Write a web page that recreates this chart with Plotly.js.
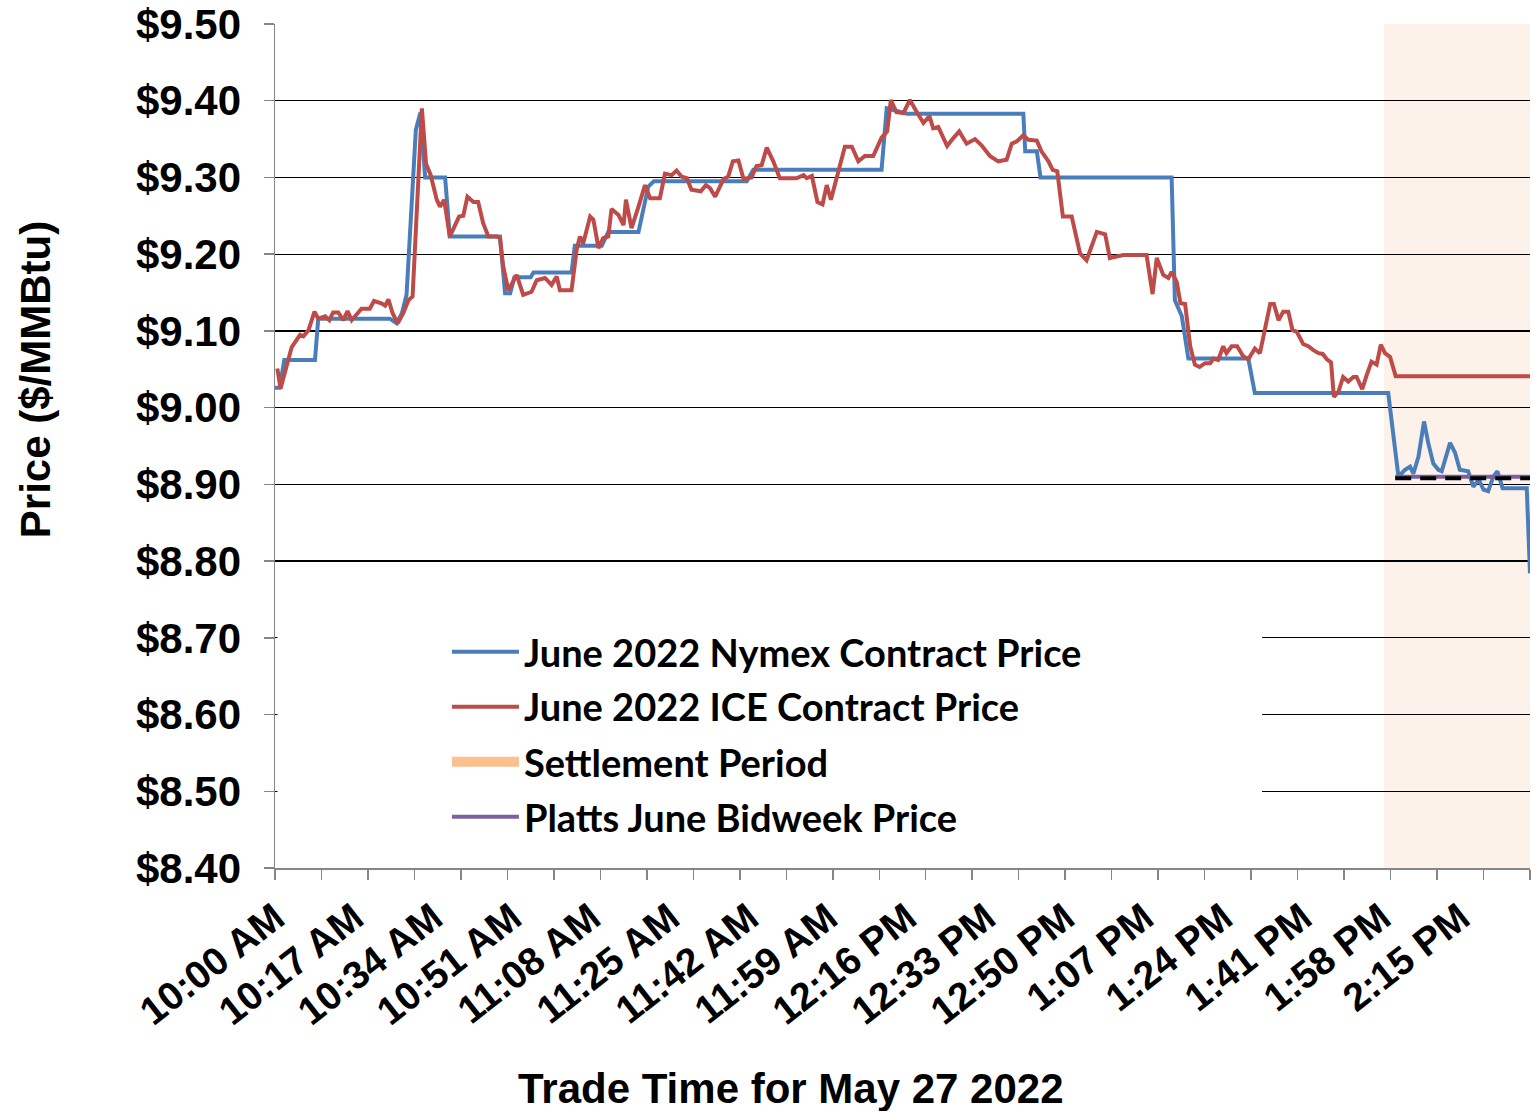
<!DOCTYPE html>
<html><head><meta charset="utf-8">
<script src="https://cdn.plot.ly/plotly-3.0.1.min.js"></script>
<style>html,body{margin:0;padding:0;background:#fff}#chart{width:1532px;height:1111px}</style>
</head><body><div id="chart"></div>
<script>
// minutes after 10:00 AM, May 27 2022
const nymexTime = [0,1,2,8.6,9.3,24.7,26.2,27.3,28.3,30.3,31.3,32.3,36.6,37.6,48.4,49.5,50.6,51.5,55,55.6,63.8,64.5,70.3,71.7,78.2,80.3,81.5,101.5,102.9,130.5,131.6,133,136,161,161.4,163.9,164.7,192.9,193.6,195.1,196.5,209.4,210.8,239.5,241.7,243.1,244.2,244.9,246,247.2,248.1,249.2,250.3,251,252.8,253.9,254.9,256.7,257.8,259,260,261,262.1,263,264.1,269.3,270];
const nymexPrice = [9.026,9.026,9.062,9.062,9.116,9.116,9.110,9.123,9.147,9.362,9.385,9.300,9.300,9.223,9.223,9.149,9.149,9.170,9.170,9.176,9.176,9.211,9.211,9.229,9.229,9.288,9.295,9.295,9.310,9.310,9.390,9.388,9.383,9.383,9.334,9.334,9.300,9.300,9.140,9.119,9.064,9.064,9.019,9.019,8.910,8.919,8.923,8.914,8.936,8.982,8.954,8.927,8.919,8.917,8.954,8.941,8.919,8.917,8.897,8.906,8.893,8.891,8.910,8.917,8.895,8.895,8.784];

const iceTime = [0.5,1.2,3.6,5.4,6.1,7.2,8.5,9.3,10.8,11.7,12.5,13.6,14.7,15.6,16.5,17.9,18.6,20.4,21.3,22.9,23.7,24.4,25.3,26.4,27.6,28.7,29.6,31.6,32.5,33.5,34.8,35.5,36.4,37.6,39.6,40.5,41.4,42.7,43.7,44.8,45.9,47.7,48.4,49.1,50.2,52.0,53.4,55.2,56.3,58.1,59.5,60.6,61.3,63.8,64.9,65.6,66.3,67.8,68.5,69.6,70.6,71.7,72.4,73.9,75.0,75.5,76.7,78.2,79.6,80.7,82.8,83.9,85.3,86.4,87.5,88.6,89.6,91.6,92.7,93.6,94.7,96.5,97.5,98.5,99.7,100.8,102.5,103.6,104.7,105.8,107.2,108.6,112.2,113.7,114.4,115.5,116.7,117.8,118.7,119.6,121.2,122.6,124.1,125.5,126.9,128.7,130.5,131.7,132.5,133.7,135.2,136.6,138.0,139.5,140.8,141.6,142.7,144.6,145.9,147.2,148.8,150.6,152.0,153.8,155.6,157.4,158.5,159.6,161.0,162.1,163.9,164.9,166.4,167.3,168.3,169.5,171.4,173.2,174.6,176.8,178.6,179.6,182.5,187.5,188.8,189.7,191.1,192.2,192.9,194.0,194.8,195.8,196.9,197.9,198.9,200.1,201.2,201.9,202.9,204.0,204.7,205.8,207.0,208.3,209.4,210.8,211.9,213.0,214.1,214.9,215.9,216.9,218.0,218.9,219.8,221.2,222.3,223.4,224.5,225.4,226.3,227.2,227.8,228.8,229.8,230.9,232.0,232.7,233.9,234.9,235.9,237.0,237.9,238.8,239.9,241.1,270];
const icePrice = [9.051,9.025,9.079,9.095,9.093,9.101,9.125,9.116,9.119,9.114,9.124,9.124,9.114,9.126,9.114,9.125,9.129,9.129,9.139,9.136,9.133,9.141,9.123,9.110,9.123,9.140,9.145,9.390,9.318,9.303,9.271,9.262,9.271,9.223,9.249,9.250,9.275,9.268,9.268,9.240,9.223,9.223,9.221,9.184,9.153,9.173,9.147,9.151,9.166,9.169,9.160,9.171,9.153,9.153,9.206,9.223,9.214,9.249,9.245,9.208,9.221,9.223,9.259,9.251,9.238,9.271,9.234,9.262,9.290,9.273,9.273,9.305,9.303,9.309,9.301,9.299,9.284,9.282,9.290,9.286,9.275,9.298,9.301,9.321,9.322,9.298,9.300,9.315,9.316,9.339,9.321,9.299,9.299,9.303,9.299,9.302,9.268,9.265,9.290,9.271,9.310,9.340,9.340,9.321,9.328,9.328,9.352,9.360,9.401,9.385,9.384,9.401,9.386,9.371,9.380,9.364,9.366,9.341,9.351,9.360,9.344,9.350,9.342,9.328,9.321,9.323,9.344,9.347,9.355,9.349,9.348,9.334,9.321,9.310,9.308,9.249,9.249,9.201,9.192,9.229,9.226,9.195,9.199,9.199,9.148,9.195,9.173,9.169,9.177,9.164,9.136,9.135,9.080,9.056,9.053,9.058,9.058,9.064,9.062,9.080,9.071,9.080,9.080,9.067,9.063,9.077,9.071,9.106,9.135,9.135,9.114,9.125,9.125,9.101,9.099,9.083,9.080,9.075,9.071,9.070,9.063,9.059,9.014,9.021,9.040,9.034,9.040,9.040,9.024,9.043,9.060,9.056,9.082,9.071,9.066,9.041,9.041];

const settlementStart = 238.6;
const settlementEnd = 270;
const plattsTime = [241, 270];
const plattsPrice = [8.910, 8.910];
const nymexSettleTime = [241, 270];
const nymexSettlePrice = [8.908, 8.908];

const tickMinutes = [0,17,34,51,68,85,102,119,136,153,170,187,204,221,238,255];
const tickLabels = ['10:00 AM','10:17 AM','10:34 AM','10:51 AM','11:08 AM','11:25 AM','11:42 AM','11:59 AM','12:16 PM','12:33 PM','12:50 PM','1:07 PM','1:24 PM','1:41 PM','1:58 PM','2:15 PM'];
const priceTicks = [8.4,8.5,8.6,8.7,8.8,8.9,9.0,9.1,9.2,9.3,9.4,9.5];
const priceTickLabels = ['$8.40','$8.50','$8.60','$8.70','$8.80','$8.90','$9.00','$9.10','$9.20','$9.30','$9.40','$9.50'];

const AX = '#868686';
const F = 'Liberation Sans, Arial, sans-serif';
const LF = {family:'Lato, sans-serif', size:38, weight:'bold', color:'#000'};

const traces = [
  {x:nymexTime, y:nymexPrice, type:'scatter', mode:'lines', name:'June 2022 Nymex Contract Price',
   line:{color:'#4A7EBB', width:4}, legend:'legend'},
  {x:iceTime, y:icePrice, type:'scatter', mode:'lines', name:'June 2022 ICE Contract Price',
   line:{color:'#BE4B48', width:4}, legend:'legend2'},
  {x:[null], y:[null], type:'scatter', mode:'lines', name:'Settlement Period',
   line:{color:'#FAC090', width:10}, legend:'legend3'},
  {x:plattsTime, y:plattsPrice, type:'scatter', mode:'lines', name:'Platts June Bidweek Price',
   line:{color:'#7D5FA0', width:4}, legend:'legend4'},
  {x:nymexSettleTime, y:nymexSettlePrice, type:'scatter', mode:'lines', showlegend:false,
   line:{color:'#000', width:4, dash:'16px,9px'}}
];

function lg(y){ return {x:0.137, y:y, xanchor:'left', yanchor:'middle', bgcolor:'rgba(0,0,0,0)',
  font:LF, itemwidth:67, borderwidth:0}; }

const layout = {
  width:1532, height:1111,
  margin:{l:275, r:2, t:24, b:243},
  paper_bgcolor:'#fff', plot_bgcolor:'#fff',
  showlegend:true,
  legend:lg(0.2559), legend2:lg(0.1908), legend3:lg(0.1256), legend4:lg(0.0604),
  xaxis:{range:[0,270], tickmode:'array', tickvals:tickMinutes, ticktext:tickLabels,
    tickangle:-38, ticks:'outside', ticklen:10, tickcolor:'rgba(0,0,0,0)',
    ticklabelstandoff:0,
    tickfont:{family:F, size:39, weight:'bold', color:'#000'},
    showline:true, linecolor:AX, linewidth:1.5, showgrid:false, zeroline:false,
    minor:{tickmode:'linear', tick0:0, dtick:10, ticks:'outside', ticklen:10, tickcolor:AX, tickwidth:1.5, showgrid:false}},
  yaxis:{range:[8.4,9.5], tickmode:'array', tickvals:priceTicks, ticktext:priceTickLabels,
    ticks:'outside', ticklen:10, tickcolor:AX, tickwidth:1.5, ticklabelstandoff:14,
    tickfont:{family:F, size:42, weight:'bold', color:'#000'},
    showline:true, linecolor:AX, linewidth:1.5, showgrid:true, gridcolor:'#000', gridwidth:1.3, zeroline:false},
  shapes:[
    {type:'rect', xref:'x', yref:'paper', x0:settlementStart, x1:settlementEnd, y0:0, y1:1,
     fillcolor:'#FDF2E9', line:{width:0}, layer:'below'},
    {type:'rect', xref:'paper', yref:'paper', x0:0.002, x1:0.7865, y0:0.021, y1:0.347,
     fillcolor:'#fff', line:{width:0}, layer:'above'}
  ],
  annotations:[
    {text:'Price ($/MMBtu)', xref:'paper', yref:'paper', x:-0.1912, y:0.578, textangle:-90,
     showarrow:false, xanchor:'center', yanchor:'middle', font:{family:F, size:42, weight:'bold', color:'#000'}},
    {text:'Trade Time for May 27 2022', xref:'paper', yref:'paper', x:0.4112, y:-0.2607,
     showarrow:false, xanchor:'center', yanchor:'middle', font:{family:F, size:42, weight:'bold', color:'#000'}}
  ]
};

Plotly.newPlot('chart', traces, layout, {staticPlot:true, displayModeBar:false});
</script>
</body></html>
